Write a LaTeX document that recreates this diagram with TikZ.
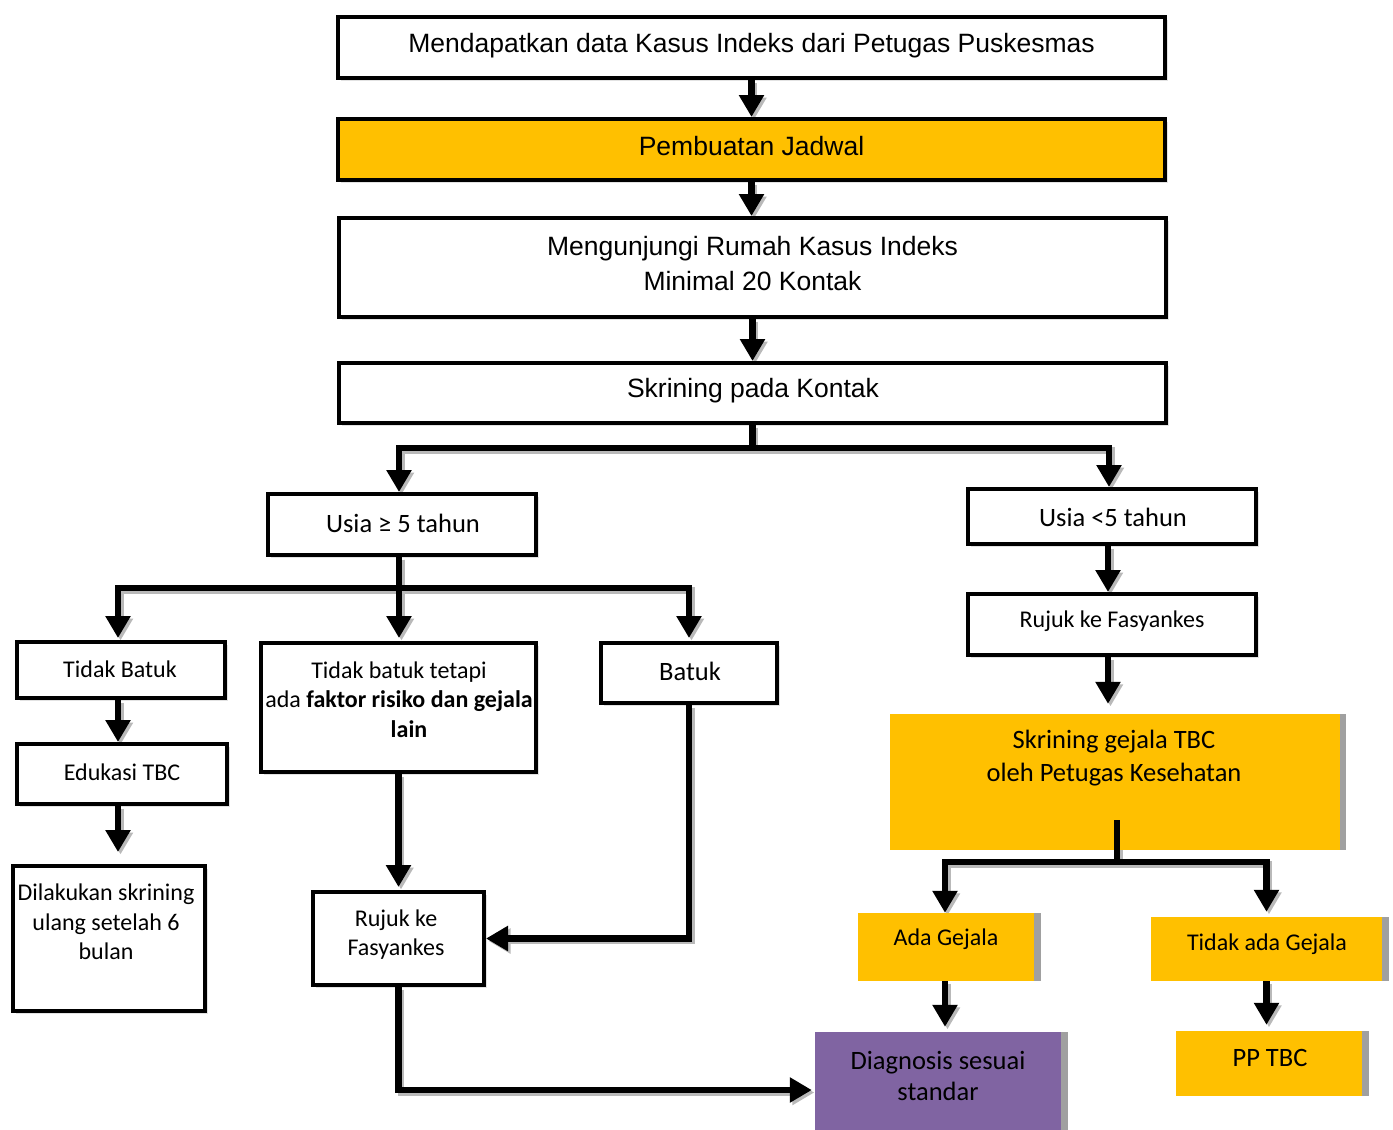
\documentclass[tikz,border=0pt]{standalone}
\usepackage{fontspec}
\setmainfont{Carlito}
\newfontfamily\arialf{Liberation Sans}
\usetikzlibrary{arrows.meta,shadows}
\definecolor{tbyellow}{HTML}{FFC000}
\definecolor{tbpurple}{HTML}{8064A2}
\definecolor{tbgray}{HTML}{A0A0A0}
\pgfdeclarelayer{bg}
\pgfsetlayers{bg,main}
\newcommand\conn[2][]{\begin{pgfonlayer}{bg}\draw[shd,#1]#2;\end{pgfonlayer}\draw[arr,#1]#2;}
\tikzset{
  wbox/.style={draw, line width=4pt, fill=white, inner sep=0pt,
    drop shadow={shadow xshift=2.5pt, shadow yshift=-2.5pt, fill=gray!45}},
  cbox/.style={inner sep=0pt},
  arr/.style={line width=6.5pt, -{Triangle[width=24pt,length=22pt]}},
  shd/.style={line width=6.5pt, draw=gray!55, -{Triangle[width=24pt,length=22pt]},
    transform canvas={xshift=2.5pt,yshift=-2.5pt}},
  txt/.style={align=center, inner sep=0pt},
  fA/.style={font=\arialf\fontsize{26.5}{35}\selectfont},
  fL/.style={font=\fontsize{26.5}{32}\selectfont},
  fS/.style={font=\fontsize{24}{29.5}\selectfont},
  strip/.style={fill=tbgray}
}
\begin{document}
\begin{tikzpicture}[x=1pt,y=-1pt]
\useasboundingbox (0,0) rectangle (1393,1130);
% top column
\node[wbox, minimum width=827pt, minimum height=61pt] (b1) at (751.5,47.5) {};
\node[txt, fA] (b1t) at (751.5,46) {Mendapatkan data Kasus Indeks dari Petugas Puskesmas};
\node[wbox, fill=tbyellow, minimum width=827pt, minimum height=61pt] (b2) at (751.5,149.5) {};
\node[txt, fA] (b2t) at (751.5,146) {Pembuatan Jadwal};
\node[wbox, minimum width=827pt, minimum height=99pt] (b3) at (752.5,267.5) {};
\node[txt, fA] (b3t) at (752.5,263.5) {Mengunjungi Rumah Kasus Indeks\\Minimal 20 Kontak};
\node[wbox, minimum width=827pt, minimum height=60pt] (b4) at (752.5,393) {};
\node[txt, fA] (b4t) at (753,391) {Skrining pada Kontak};
% age boxes
\node[wbox, minimum width=268pt, minimum height=61pt] (u5a) at (402,524.5) {};
\node[txt, fL] (u5at) at (403,523) {Usia ≥ 5 tahun};
\node[wbox, minimum width=288pt, minimum height=55pt] (u5b) at (1112,516.5) {};
\node[txt, fL] (u5bt) at (1113,517) {Usia <5 tahun};
% right column
\node[wbox, minimum width=288pt, minimum height=61pt] (rr) at (1112,624.5) {};
\node[txt, fS] (rrt) at (1112,621) {Rujuk ke Fasyankes};
\node[cbox, fill=tbyellow, minimum width=450pt, minimum height=136pt] (sg) at (1115,782) {};
\fill[strip] (sg.north east) rectangle ([xshift=6pt]sg.south east);
\node[txt, fL] (sgt) at (1114,758.5) {Skrining gejala TBC\\[1pt]oleh Petugas Kesehatan};
\node[cbox, fill=tbyellow, minimum width=176pt, minimum height=68pt] (ad) at (946,947) {};
\fill[strip] (ad.north east) rectangle ([xshift=7pt]ad.south east);
\node[txt, fS] (adt) at (946,939) {Ada Gejala};
\node[cbox, fill=tbyellow, minimum width=231pt, minimum height=64pt] (ta) at (1266.5,949) {};
\fill[strip] (ta.north east) rectangle ([xshift=7pt]ta.south east);
\node[txt, fS] (tat) at (1267,944) {Tidak ada Gejala};
\node[cbox, fill=tbpurple, minimum width=246pt, minimum height=98pt] (dg) at (938,1081) {};
\fill[strip] (dg.north east) rectangle ([xshift=7pt]dg.south east);
\node[txt, font=\fontsize{26.5}{31}\selectfont] (dgt) at (938,1075.5) {Diagnosis sesuai\\standar};
\node[cbox, fill=tbyellow, minimum width=186pt, minimum height=65pt] (pp) at (1269,1063.5) {};
\fill[strip] (pp.north east) rectangle ([xshift=7pt]pp.south east);
\node[txt, fL] (ppt) at (1270,1058) {PP TBC};
% left part
\node[wbox, minimum width=208pt, minimum height=56pt] (tb) at (121,670) {};
\node[txt, fS] (tbt) at (120,669) {Tidak Batuk};
\node[wbox, minimum width=210pt, minimum height=60pt] (ed) at (122,774) {};
\node[txt, fS] (edt) at (122,772) {Edukasi TBC};
\node[wbox, minimum width=192pt, minimum height=145pt] (dl) at (109,938.5) {};
\node[txt, fS] (dlt) at (106,922) {Dilakukan skrining\\ulang setelah 6\\bulan};
\node[wbox, minimum width=275pt, minimum height=129pt] (tt) at (398.5,707.5) {};
\node[txt, fS] (ttt) at (399,699.5) {Tidak batuk tetapi\\ada \textbf{faktor risiko dan gejala}\\\hspace*{20pt}\textbf{lain}};
\node[wbox, minimum width=176pt, minimum height=60pt] (bt) at (689,673) {};
\node[txt, fL] (btt) at (690,671) {Batuk};
\node[wbox, minimum width=171pt, minimum height=93pt] (rl) at (398.5,938.5) {};
\node[txt, fS] (rlt) at (396,934.5) {Rujuk ke\\Fasyankes};
% junctions
\coordinate (j1) at (752.5,448);
\coordinate (j2) at (399,588);
\coordinate (j3) at (1117,862);
\coordinate (sgs) at (1117,820);
% connectors
\conn{(b1.south) -- (b2.north)}
\conn{(b2.south) -- (b2.south |- b3.north)}
\conn{(b3.south) -- (b4.north)}
\conn{(b4.south) |- ([xshift=-3pt]u5a.north |- j1) -- ([xshift=-3pt]u5a.north)}
\conn{(b4.south) |- ([xshift=-3pt]u5b.north |- j1) -- ([xshift=-3pt]u5b.north)}
\conn[shorten >=3pt]{([xshift=-3pt]u5a.south) -- ([xshift=-3pt]u5a.south |- tt.north)}
\conn[shorten >=2pt]{([xshift=-3pt]u5a.south) |- ([xshift=-3pt]tb.north |- j2) -- ([xshift=-3pt]tb.north)}
\conn[shorten >=3pt]{([xshift=-3pt]u5a.south) |- (bt.north |- j2) -- (bt.north)}
\conn{([xshift=-3pt]tb.south) -- ([xshift=-3pt]tb.south |- ed.north)}
\conn[shorten >=12pt]{([xshift=-4pt]ed.south) -- ([xshift=-4pt]ed.south |- dl.north)}
\conn[shorten >=3pt]{(tt.south) -- (tt.south |- rl.north)}
\conn{(bt.south) |- (rl.east)}
\conn[shorten >=3pt]{(rl.south) |- ([yshift=-9pt]dg.west)}
\conn{([xshift=-4pt]u5b.south) -- ([xshift=-4pt]rr.north)}
\conn[shorten >=10pt]{([xshift=-4pt]rr.south) -- ([xshift=-4pt]rr.south |- sg.north)}
\conn{(sgs) |- ([xshift=-1pt]ad.north |- j3) -- ([xshift=-1pt]ad.north)}
\conn[shorten >=5pt]{(sgs) |- (ta.north |- j3) -- (ta.north)}
\conn[shorten >=5pt]{([xshift=-1pt]ad.south) -- ([xshift=-1pt]ad.south |- dg.north)}
\conn[shorten >=6pt]{(ta.south) -- (ta.south |- pp.north)}
\end{tikzpicture}
\end{document}
